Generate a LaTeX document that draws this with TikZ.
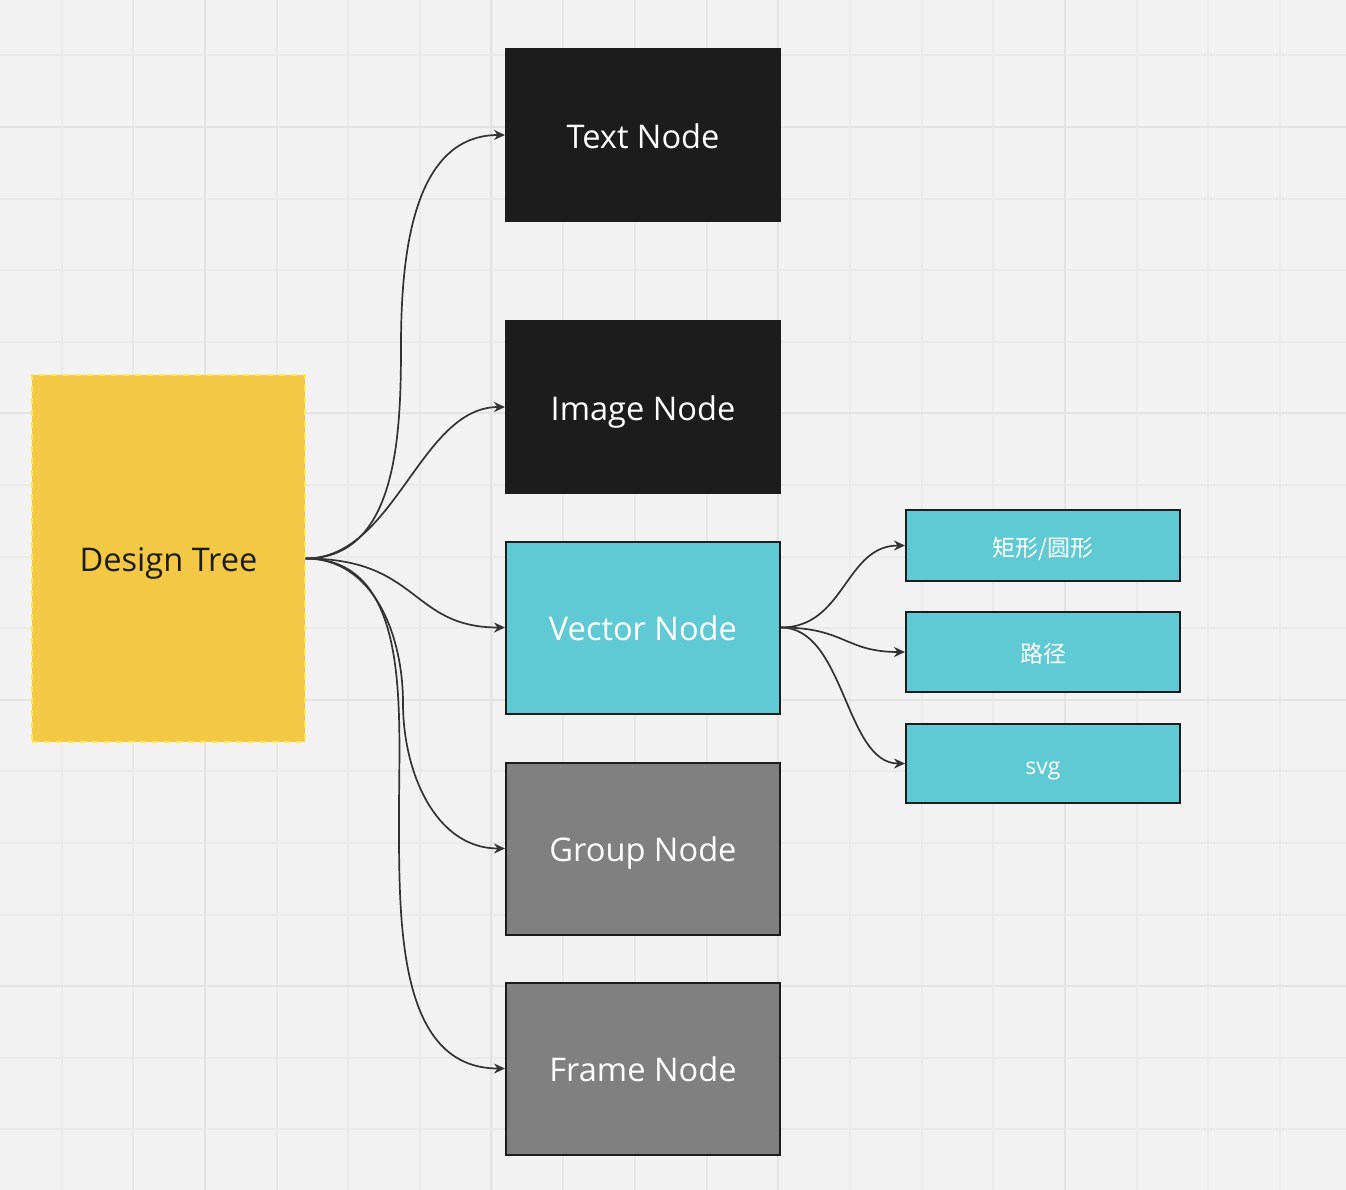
\documentclass[tikz,border=0pt]{standalone}
\usepackage{fontspec}
\setmainfont{Open Sans}
\newfontfamily\cjk{Noto Sans CJK SC}
\usetikzlibrary{arrows.meta}

\definecolor{bgcol}{HTML}{F2F2F2}
\definecolor{gridminor}{HTML}{EAEAEA}
\definecolor{gridmajor}{HTML}{E3E3E3}
\definecolor{treecol}{HTML}{F2C844}
\definecolor{treeline}{HTML}{F7EC55}
\definecolor{darkcol}{HTML}{1C1C1C}
\definecolor{cyancol}{HTML}{5FCAD3}
\definecolor{graycol}{HTML}{808080}
\definecolor{linecol}{HTML}{333333}

\tikzset{
  bigbox/.style={draw=darkcol,line width=1pt,minimum width=137pt,minimum height=86pt,inner sep=0pt,text=white,font=\fontsize{16.3}{19}\selectfont,text height=13.2pt,text depth=0pt},
  smallbox/.style={draw=darkcol,line width=1pt,fill=cyancol,minimum width=137pt,inner sep=0pt,text=white,font=\fontsize{11.5}{14}\selectfont,text height=10.5pt,text depth=0pt},
  link/.style={draw=linecol,line width=0.85pt,-{Stealth[length=5.5pt,width=5pt]}}
}

\begin{document}
\begin{tikzpicture}[x=0.5pt,y=-0.5pt]
  \useasboundingbox (0,0) rectangle (1346,1190);
  \fill[bgcol] (0,0) rectangle (1346,1190);
  % grid
  \foreach \k in {0,...,17}
    \draw[gridminor,line width=1pt] ({61.7+71.67*\k},0) -- ({61.7+71.67*\k},1190);
  \foreach \k in {0,...,15}
    \draw[gridminor,line width=1pt] (0,{55.4+71.6*\k}) -- (1346,{55.4+71.6*\k});
  \foreach \x in {205,491,778,1065}
    \draw[gridmajor,line width=1pt] (\x,0) -- (\x,1190);
  \foreach \y in {127,413,700,986}
    \draw[gridmajor,line width=1pt] (0,\y) -- (1346,\y);

  % nodes
  \node[draw=treeline,dashed,line width=0.6pt,fill=treecol,minimum width=136.5pt,minimum height=183.5pt,inner sep=0pt,text=darkcol,font=\fontsize{16.3}{19}\selectfont,text height=12.6pt,text depth=0pt] (tree) at (168.5,558.5) {Design Tree};
  \node[bigbox,fill=darkcol] (text) at (643,135) {Text Node};
  \node[bigbox,fill=darkcol] (image) at (643,407) {Image Node};
  \node[bigbox,fill=cyancol] (vector) at (643,627.5) {Vector Node};
  \node[bigbox,fill=graycol] (group) at (643,848.5) {Group Node};
  \node[bigbox,fill=graycol] (frame) at (643,1068.5) {Frame Node};
  \node[smallbox,minimum height=35.5pt] (rect) at (1043,545.5) {\cjk 矩形/圆形};
  \node[smallbox,minimum height=40pt] (path) at (1043,652) {\cjk 路径};
  \node[smallbox,minimum height=39.5pt] (svg) at (1043,763.5) {svg};

  % connectors
  \draw[link] (tree.east) to[out=0,in=-90] (401,346) to[out=90,in=180] (text.west);
  \draw[link] (tree.east) .. controls (395,558.5) and (420,407) .. (image.west);
  \draw[link] (tree.east) .. controls (420,558.5) and (410,627.5) .. (vector.west);
  \draw[link] (tree.east) to[out=0,in=90] (403,703) to[out=-90,in=180] (group.west);
  \draw[link] (tree.east) to[out=0,in=90] (399,813) to[out=-90,in=180] (frame.west);
  \draw[link] (vector.east) .. controls (845,627.5) and (845,545.5) .. (rect.west);
  \draw[link] (vector.east) .. controls (845,627.5) and (845,652) .. (path.west);
  \draw[link] (vector.east) .. controls (845,627.5) and (845,763.5) .. (svg.west);
\end{tikzpicture}
\end{document}
